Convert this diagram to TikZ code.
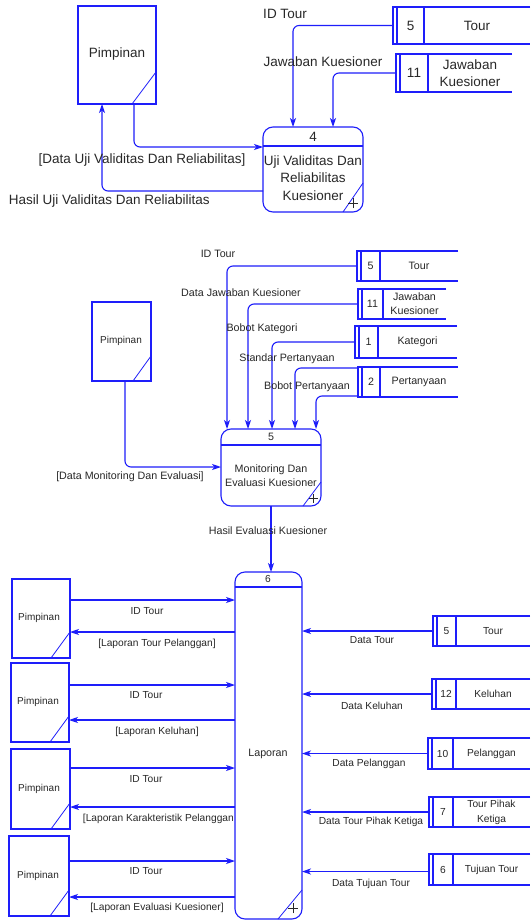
\documentclass[tikz,border=0pt]{standalone}
\usepackage{fontspec}
\setmainfont{Liberation Sans}
\usetikzlibrary{fit,arrows.meta}
\definecolor{dfblue}{RGB}{30,30,250}
\definecolor{dftext}{RGB}{40,40,40}
\tikzset{
  flow/.style={draw=dfblue, line width=1.1pt},
  arr/.style={flow, -{Stealth[length=9pt,width=6pt,inset=2.5pt]}, rounded corners=6pt},
  fa/.style={font=\fontsize{13.5}{17.5}\selectfont, text=dftext, inner sep=0pt},
  fb/.style={font=\fontsize{10.7}{14}\selectfont, text=dftext, inner sep=0pt},
  fp/.style={font=\fontsize{10}{12}\selectfont, text=dftext, inner sep=0pt},
  fc/.style={font=\fontsize{10.2}{15}\selectfont, text=dftext, inner sep=0pt},
  region/.style={inner sep=0pt, outer sep=0pt},
  entbox/.style={region, draw=dfblue, line width=1.1pt},
  procbox/.style={region, draw=dfblue, line width=1.1pt, rounded corners=10pt},
  plusmark/.style={draw=dftext, line width=0.8pt},
}
\newcommand{\dfstore}[9]{%
  \node[region, fit={(#2,#3) (#4,#5)}] (#1) {};
  \draw[flow] (#1.north east) -- (#1.north west) -- (#1.south west) -- (#1.south east);
  \draw[flow] ([xshift=4pt]#1.north west) -- ([xshift=4pt]#1.south west);
  \draw[flow] (#6,#3) -- (#6,#5);
  \node[#9] (#1n) at ({(#2+4+#6)/2},{(#3+#5)/2}) {#7};
  \node[#9, align=center] (#1l) at ({(#6+#4)/2},{(#3+#5)/2}) {#8};
}
\begin{document}
\begin{tikzpicture}[x=1pt,y=-1pt]
\useasboundingbox (0,0) rectangle (530,920);
\fill[white] (0,0) rectangle (530,920);

% ================= TOP =================
\node[entbox, fit={(78,6) (156,104)}] (pimA) {};
\node[fa] (pimAt) at (117,54) {Pimpinan};
\draw[flow, line width=0.8pt] ([xshift=-24pt]pimA.south east) -- ([yshift=32pt]pimA.south east);

\dfstore{tourA}{393}{7}{530}{44}{424}{5}{Tour}{fa}
\dfstore{jawA}{396}{54}{512}{92}{428}{11}{Jawaban\\Kuesioner}{fa}

\node[procbox, fit={(263,127) (363,212)}] (procA) {};
\draw[flow] ([yshift=-19pt]procA.north west) -- ([yshift=-19pt]procA.north east);
\node[fa] (procAn) at (313,137) {4};
\node[fa, align=center] (procAt) at (313,178) {Uji Validitas Dan\\Reliabilitas\\Kuesioner};
\draw[flow, line width=0.8pt] ([xshift=-20pt]procA.south east) -- ([yshift=29pt]procA.south east);
\draw[plusmark] ([xshift=-15pt,yshift=9pt]procA.south east) -- ([xshift=-5pt,yshift=9pt]procA.south east)
  ([xshift=-10pt,yshift=4pt]procA.south east) -- ([xshift=-10pt,yshift=14pt]procA.south east);

\draw[arr] (tourA.west) -| ([xshift=30pt]procA.north west);
\draw[arr] (jawA.west) -| ([xshift=70pt]procA.north west);
\draw[arr] ([xshift=56pt]pimA.south west) |- ([yshift=-20pt]procA.north west);
\draw[arr] ([yshift=21pt]procA.south west) -| ([xshift=24pt]pimA.south west);

\node[fa] (lA1) at (285,14) {ID Tour};
\node[fa] (lA2) at (323,62) {Jawaban Kuesioner};
\node[fa] (lA3) at (142,160) {[Data Uji Validitas Dan Reliabilitas]};
\node[fa, anchor=east] (lA4) at (210,201) {Hasil Uji Validitas Dan Reliabilitas};

% ================= MIDDLE =================
\node[entbox, fit={(92,302) (151,381)}] (pimB) {};
\node[fp] (pimBt) at (121,341) {Pimpinan};
\draw[flow, line width=0.8pt] ([xshift=-18pt]pimB.south east) -- ([yshift=25pt]pimB.south east);

\dfstore{tourB}{357}{251}{458}{281}{380}{5}{Tour}{fb}
\dfstore{jawB}{358}{289}{446}{319}{383}{11}{Jawaban\\Kuesioner}{fb}
\dfstore{katB}{355}{326}{457}{358}{378}{1}{Kategori}{fb}
\dfstore{perB}{358}{367}{458}{397}{380}{2}{Pertanyaan}{fb}

\node[procbox, fit={(221,429) (321,506)}] (procB) {};
\draw[flow] ([yshift=-16pt]procB.north west) -- ([yshift=-16pt]procB.north east);
\node[fb] (procBn) at (271,437) {5};
\node[fb, align=center] (procBt) at (271,476) {Monitoring Dan\\Evaluasi Kuesioner};
\draw[flow, line width=0.8pt] ([xshift=-18pt]procB.south east) -- ([yshift=24pt]procB.south east);
\draw[plusmark] ([xshift=-12pt,yshift=8pt]procB.south east) -- ([xshift=-3pt,yshift=8pt]procB.south east)
  ([xshift=-7.5pt,yshift=3.5pt]procB.south east) -- ([xshift=-7.5pt,yshift=12.5pt]procB.south east);

% ================= BOTTOM process =================
\node[procbox, fit={(235,572) (302,919)}] (procC) {};
\draw[flow] ([yshift=-15pt]procC.north west) -- ([yshift=-15pt]procC.north east);
\node[fc] (procCn) at (268,579) {6};
\node[fb] (procCt) at (268,754) {Laporan};
\draw[flow, line width=0.8pt] ([xshift=-24pt]procC.south east) -- ([yshift=29pt]procC.south east);
\draw[plusmark] ([xshift=-14pt,yshift=11pt]procC.south east) -- ([xshift=-4pt,yshift=11pt]procC.south east)
  ([xshift=-9pt,yshift=6pt]procC.south east) -- ([xshift=-9pt,yshift=16pt]procC.south east);

% middle arrows
\draw[arr] (tourB.west) -| ([xshift=6pt]procB.north west);
\draw[arr] (jawB.west) -| ([xshift=27pt]procB.north west);
\draw[arr] (katB.west) -| ([xshift=51pt]procB.north west);
\draw[arr] ([yshift=-1pt]perB.north west) -| ([xshift=74pt]procB.north west);
\draw[arr] ([yshift=1pt]perB.south west) -| ([xshift=95pt]procB.north west);
\draw[arr] ([xshift=33pt]pimB.south west) |- ([yshift=-38pt]procB.north west);
\draw[arr] (procB.south) -- (procB.south |- procC.north);

\node[fb] (lB1) at (218,254) {ID Tour};
\node[fb] (lB2) at (241,293) {Data Jawaban Kuesioner};
\node[fb] (lB3) at (262,329) {Bobot Kategori};
\node[fb] (lB4) at (287,359) {Standar Pertanyaan};
\node[fb] (lB5) at (307,387) {Bobot Pertanyaan};
\node[fb] (lB6) at (130,477) {[Data Monitoring Dan Evaluasi]};
\node[fb] (lB7) at (268,531) {Hasil Evaluasi Kuesioner};

% ================= BOTTOM left =================
\node[entbox, fit={(12,579) (70,658)}] (pimC) {};
\node[fp] (pimCt) at (39,618) {Pimpinan};
\draw[flow, line width=0.8pt] ([xshift=-19pt]pimC.south east) -- ([yshift=26pt]pimC.south east);
\node[entbox, fit={(11,663) (69,742)}] (pimD) {};
\node[fp] (pimDt) at (38,702) {Pimpinan};
\draw[flow, line width=0.8pt] ([xshift=-19pt]pimD.south east) -- ([yshift=26pt]pimD.south east);
\node[entbox, fit={(11,749) (70,829)}] (pimE) {};
\node[fp] (pimEt) at (39,789) {Pimpinan};
\draw[flow, line width=0.8pt] ([xshift=-19pt]pimE.south east) -- ([yshift=26pt]pimE.south east);
\node[entbox, fit={(9,836) (69,916)}] (pimF) {};
\node[fp] (pimFt) at (38,876) {Pimpinan};
\draw[flow, line width=0.8pt] ([xshift=-19pt]pimF.south east) -- ([yshift=26pt]pimF.south east);

\coordinate (cC1) at ([yshift=-21pt]pimC.north east);
\coordinate (cC2) at ([yshift=-53pt]pimC.north east);
\coordinate (cD1) at ([yshift=-22pt]pimD.north east);
\coordinate (cD2) at ([yshift=-57pt]pimD.north east);
\coordinate (cE1) at ([yshift=-19pt]pimE.north east);
\coordinate (cE2) at ([yshift=-58pt]pimE.north east);
\coordinate (cF1) at ([yshift=-25pt]pimF.north east);
\coordinate (cF2) at ([yshift=-61pt]pimF.north east);

\draw[arr] (cC1) -- (cC1 -| procC.west);
\draw[arr] (cC2 -| procC.west) -- (cC2);
\draw[arr] (cD1) -- (cD1 -| procC.west);
\draw[arr] (cD2 -| procC.west) -- (cD2);
\draw[arr] (cE1) -- (cE1 -| procC.west);
\draw[arr] (cE2 -| procC.west) -- (cE2);
\draw[arr] (cF1) -- (cF1 -| procC.west);
\draw[arr] (cF2 -| procC.west) -- (cF2);

\node[fc] (lC1) at (147,611) {ID Tour};
\node[fc] (lC2) at (157,644) {[Laporan Tour Pelanggan]};
\node[fc] (lC3) at (146,695) {ID Tour};
\node[fc] (lC4) at (157,732) {[Laporan Keluhan]};
\node[fc] (lC5) at (146,779) {ID Tour};
\node[fc, anchor=east] (lC6) at (234,819) {[Laporan Karakteristik Pelanggan};
\node[fc] (lC7) at (146,871) {ID Tour};
\node[fc] (lC8) at (157,908) {[Laporan Evaluasi Kuesioner]};

% ================= BOTTOM right =================
\dfstore{tourC}{433}{616}{530}{646}{456}{5}{Tour}{fc}
\dfstore{kelC}{432}{679}{530}{709}{456}{12}{Keluhan}{fc}
\dfstore{pelC}{428}{738}{530}{769}{453}{10}{Pelanggan}{fc}
\dfstore{pihC}{429}{797}{530}{827}{453}{7}{Tour Pihak\\Ketiga}{fc}
\dfstore{tujC}{429}{854}{530}{885}{453}{6}{Tujuan Tour}{fc}

\draw[arr] (tourC.west) -- (tourC.west -| procC.east);
\draw[arr] (kelC.west) -- (kelC.west -| procC.east);
\draw[arr] (pelC.west) -- (pelC.west -| procC.east);
\draw[arr] (pihC.west) -- (pihC.west -| procC.east);
\coordinate (cT) at ([yshift=-2pt]tujC.west);
\draw[arr] (cT) -- (cT -| procC.east);

\node[fc] (lD1) at (372,640) {Data Tour};
\node[fc] (lD2) at (372,706) {Data Keluhan};
\node[fc] (lD3) at (369,764) {Data Pelanggan};
\node[fc] (lD4) at (371,822) {Data Tour Pihak Ketiga};
\node[fc] (lD5) at (371,884) {Data Tujuan Tour};
\end{tikzpicture}
\end{document}
